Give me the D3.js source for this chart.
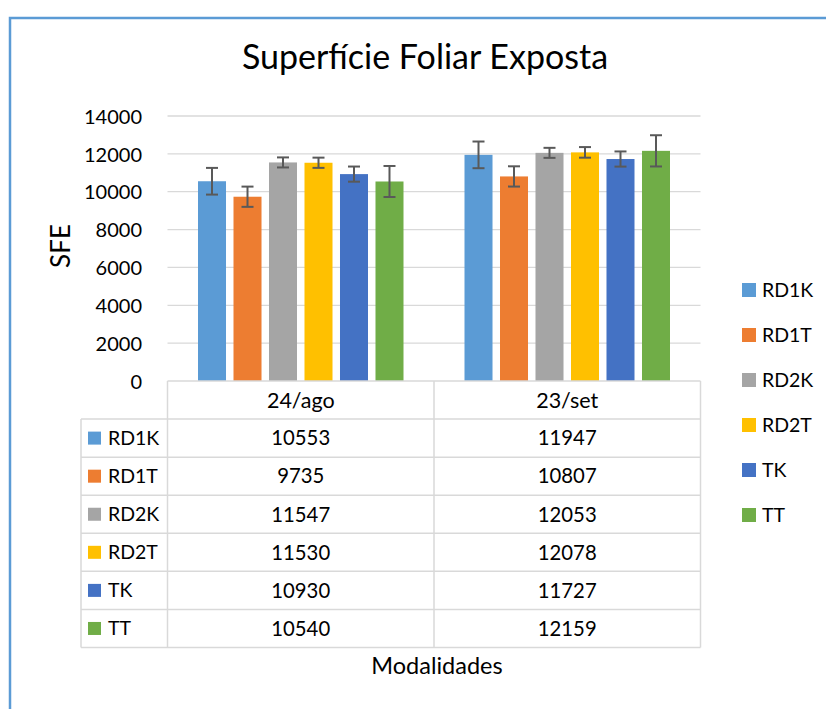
<!DOCTYPE html>
<html>
<head>
<meta charset="utf-8">
<script src="https://cdn.jsdelivr.net/npm/d3@7"></script>
<style>
  html, body { margin: 0; padding: 0; background: #fff; }
  svg text { font-family: Lato, "Open Sans", sans-serif; fill: #000; }
</style>
</head>
<body>
<svg id="chart" width="826" height="709"></svg>
<script>
const dates = ["24/ago", "23/set"];
const series = ["RD1K", "RD1T", "RD2K", "RD2T", "TK", "TT"];
const colors = ["#5B9BD5", "#ED7D31", "#A5A5A5", "#FFC000", "#4472C4", "#70AD47"];
const valuesAgo = [10553, 9735, 11547, 11530, 10930, 10540];
const valuesSet = [11947, 10807, 12053, 12078, 11727, 12159];
const errorsAgo = [705, 535, 265, 270, 400, 820];
const errorsSet = [705, 535, 265, 280, 400, 825];
const yTicks = [0, 2000, 4000, 6000, 8000, 10000, 12000, 14000];

const values = [valuesAgo, valuesSet];
const errors = [errorsAgo, errorsSet];

const svg = d3.select("#chart");

// outer frame (only top and left visible)
svg.append("path")
    .attr("d", "M10,709 L10,18 L826,18")
    .attr("fill", "none")
    .attr("stroke", "#5B9BD5")
    .attr("stroke-width", 2.5);

svg.append("text")
    .attr("x", 425).attr("y", 69)
    .attr("text-anchor", "middle")
    .style("font-size", "34px")
    .text("Superfície Foliar Exposta");

const plotLeft = 167.5, plotRight = 700.5;
const y = d3.scaleLinear().domain([0, 14000]).range([381, 116]);
const x0 = d3.scaleBand().domain(dates).range([plotLeft, plotRight]);
const x1 = d3.scaleBand().domain(series)
    .range([30.5, x0.bandwidth() - 30.5])
    .paddingInner(0.211);
const color = d3.scaleOrdinal().domain(series).range(colors);

// gridlines
svg.append("g").selectAll("line")
    .data(yTicks.filter(t => t > 0))
    .enter().append("line")
    .attr("x1", plotLeft).attr("x2", plotRight)
    .attr("y1", d => y(d)).attr("y2", d => y(d))
    .attr("stroke", "#D9D9D9").attr("stroke-width", 1.3);

// y axis labels
const yAxis = d3.axisLeft(y).tickValues(yTicks).tickFormat(d3.format("d")).tickSize(0).tickPadding(0);
const yg = svg.append("g").attr("transform", "translate(142,0)").call(yAxis);
yg.select(".domain").remove();
yg.selectAll("text")
    .style("font-family", "Lato, sans-serif")
    .style("font-size", "20px")
    .attr("fill", "#000")
    .attr("dy", "0.36em");

svg.append("text")
    .attr("transform", "translate(70,246) rotate(-90)")
    .attr("text-anchor", "middle")
    .style("font-size", "26px")
    .text("SFE");

// bars
const groups = svg.append("g").selectAll("g")
    .data(dates)
    .enter().append("g")
    .attr("transform", d => `translate(${x0(d)},0)`);

const cells = (d, i) => series.map((s, j) => ({ s: s, v: values[i][j], e: errors[i][j] }));

groups.selectAll("rect")
    .data(cells)
    .enter().append("rect")
    .attr("x", d => x1(d.s))
    .attr("width", x1.bandwidth())
    .attr("y", d => y(d.v))
    .attr("height", d => y(0) - y(d.v))
    .attr("fill", d => color(d.s));

// error bars
const eb = groups.selectAll("g.err")
    .data(cells)
    .enter().append("g").attr("class", "err")
    .attr("stroke", "#595959").attr("stroke-width", 2);
const cx = d => x1(d.s) + x1.bandwidth() / 2;
eb.append("line").attr("x1", cx).attr("x2", cx)
    .attr("y1", d => y(d.v + d.e)).attr("y2", d => y(d.v - d.e));
eb.append("line").attr("x1", d => cx(d) - 6).attr("x2", d => cx(d) + 6)
    .attr("y1", d => y(d.v + d.e)).attr("y2", d => y(d.v + d.e));
eb.append("line").attr("x1", d => cx(d) - 6).attr("x2", d => cx(d) + 6)
    .attr("y1", d => y(d.v - d.e)).attr("y2", d => y(d.v - d.e));

// data table
const tableLeft = 81;
const rowY = d3.scaleBand().domain(["header"].concat(series)).range([381, 647.5]);
const tableBottom = rowY.range()[1];
const tbl = svg.append("g");
const lineColor = "#D9D9D9";

tbl.append("line").attr("x1", plotLeft).attr("x2", plotRight)
    .attr("y1", 381).attr("y2", 381)
    .attr("stroke", lineColor).attr("stroke-width", 1.5);
tbl.selectAll("line.h")
    .data(series.map(s => rowY(s)).concat([tableBottom]))
    .enter().append("line").attr("class", "h")
    .attr("x1", tableLeft).attr("x2", plotRight)
    .attr("y1", d => d).attr("y2", d => d)
    .attr("stroke", lineColor).attr("stroke-width", 1.5);

const vx = [plotLeft, x0(dates[1]), plotRight];
tbl.selectAll("line.v")
    .data(vx)
    .enter().append("line").attr("class", "v")
    .attr("x1", d => d).attr("x2", d => d)
    .attr("y1", 381).attr("y2", tableBottom)
    .attr("stroke", lineColor).attr("stroke-width", 1.5);
tbl.append("line")
    .attr("x1", tableLeft).attr("x2", tableLeft)
    .attr("y1", rowY(series[0])).attr("y2", tableBottom)
    .attr("stroke", lineColor).attr("stroke-width", 1.5);

tbl.selectAll("text.hd")
    .data(dates)
    .enter().append("text").attr("class", "hd")
    .attr("x", d => x0(d) + x0.bandwidth() / 2)
    .attr("y", rowY("header") + rowY.bandwidth() / 2)
    .attr("dy", "0.36em")
    .attr("text-anchor", "middle")
    .style("font-size", "21.5px")
    .text(d => d);

const rows = tbl.selectAll("g.row")
    .data(series)
    .enter().append("g").attr("class", "row")
    .attr("transform", d => `translate(0,${rowY(d) + rowY.bandwidth() / 2})`);
rows.append("rect")
    .attr("x", 88).attr("y", -6.5)
    .attr("width", 13).attr("height", 13)
    .attr("fill", d => color(d));
rows.append("text")
    .attr("x", 108).attr("dy", "0.36em")
    .style("font-size", "19.5px")
    .text(d => d);
rows.selectAll("text.val")
    .data((s, j) => dates.map((dt, i) => ({ dt: dt, v: values[i][j] })))
    .enter().append("text").attr("class", "val")
    .attr("x", d => x0(d.dt) + x0.bandwidth() / 2)
    .attr("dy", "0.36em")
    .attr("text-anchor", "middle")
    .style("font-size", "20.3px")
    .text(d => d.v);

svg.append("text")
    .attr("x", 437).attr("y", 674)
    .attr("text-anchor", "middle")
    .style("font-size", "23.5px")
    .text("Modalidades");

// legend
const legend = svg.append("g").selectAll("g")
    .data(series)
    .enter().append("g")
    .attr("transform", (d, i) => `translate(742,${290 + i * 45})`);
legend.append("rect")
    .attr("y", -7).attr("width", 14).attr("height", 14)
    .attr("fill", d => color(d));
legend.append("text")
    .attr("x", 20).attr("dy", "0.36em")
    .style("font-size", "19.5px")
    .text(d => d);
</script>
</body>
</html>
